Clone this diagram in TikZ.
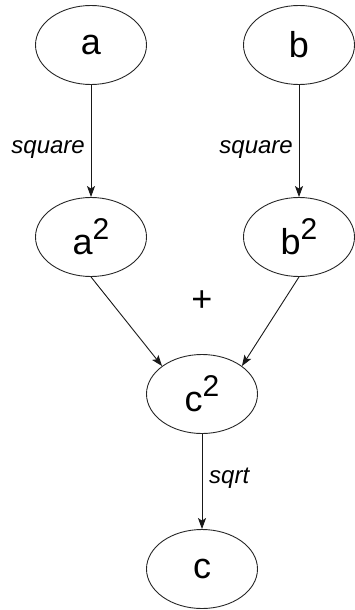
\documentclass[tikz,border=0pt]{standalone}
\usepackage{fontspec}
\setmainfont{Liberation Sans}
\usetikzlibrary{arrows.meta,shapes.geometric}
\newcommand\nodesq[1]{#1\raisebox{15pt}{\fontsize{30}{30}\selectfont 2}}
\tikzset{
  var/.style={ellipse, draw=black!85, line width=0.9pt, minimum width=111pt, minimum height=79pt, inner sep=0pt, font=\fontsize{36}{36}\selectfont},
  conn/.style={draw=black!90, line width=0.9pt, -{Stealth[length=11pt,width=8pt,inset=2.5pt]}},
  edgelab/.style={font=\fontsize{24}{24}\selectfont\itshape, inner sep=0pt},
}
\begin{document}
\begin{tikzpicture}[x=1pt,y=-1pt]
\useasboundingbox (0,0) rectangle (354,610);
\node[var] (a) at (91,45) {a};
\node[var] (b) at (299,45) {b};
\node[var] (a2) at (91,237) {\nodesq{a}};
\node[var] (b2) at (299,237) {\nodesq{b}};
\node[var] (c2) at (202,394) {\nodesq{c}};
\node[var] (c) at (202,569) {c};
\node[font=\fontsize{36}{36}\selectfont, inner sep=0pt] (plus) at (202,301) {+};
\draw[conn] (a) -- (a2);
\draw[conn] (b) -- (b2);
\draw[conn] (a2.south) -- (c2.145);
\draw[conn] (b2.south) -- (c2.35);
\draw[conn] (c2) -- (c);
\node[edgelab, anchor=base east] (lsa) at (85,153) {square};
\node[edgelab, anchor=base east] (lsb) at (293,153) {square};
\node[edgelab, anchor=base west] (lsq) at (209,483) {sqrt};
\end{tikzpicture}
\end{document}
